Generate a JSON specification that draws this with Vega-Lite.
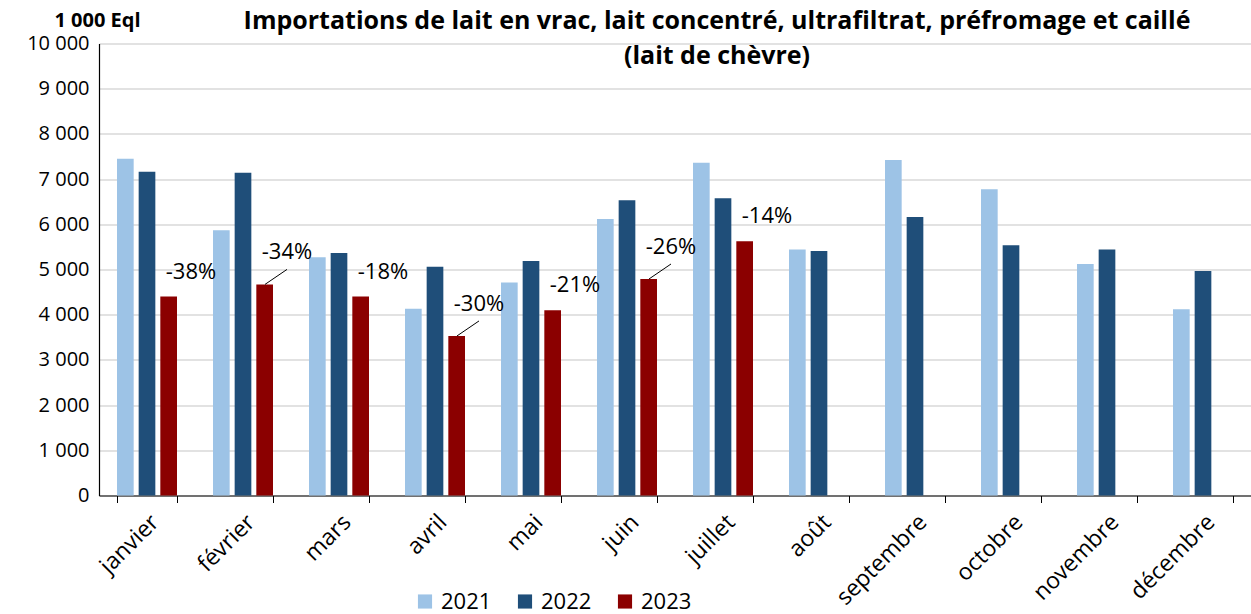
{
  "$schema": "https://vega.github.io/schema/vega-lite/v6.json",
  "width": 1152,
  "height": 452,
  "autosize": "none",
  "padding": {"left": 99, "top": 43.5, "right": 0, "bottom": 118.5},
  "config": {"font": "Open Sans", "view": {"stroke": null}},
  "title": {
    "text": ["Importations de lait en vrac, lait concentré, ultrafiltrat, préfromage et caillé", "(lait de chèvre)"],
    "fontSize": 25,
    "fontWeight": "bold",
    "color": "black",
    "anchor": "middle",
    "dx": 42,
    "offset": 0,
    "dy": 58,
    "lineHeight": 35
  },
  "data": {
    "values": [
      {"month": "janvier", "year": "2021", "value": 7450},
      {"month": "janvier", "year": "2022", "value": 7160},
      {"month": "janvier", "year": "2023", "value": 4400, "pct": "-38%"},
      {"month": "février", "year": "2021", "value": 5870},
      {"month": "février", "year": "2022", "value": 7140},
      {"month": "février", "year": "2023", "value": 4670, "pct": "-34%"},
      {"month": "mars", "year": "2021", "value": 5270},
      {"month": "mars", "year": "2022", "value": 5365},
      {"month": "mars", "year": "2023", "value": 4400, "pct": "-18%"},
      {"month": "avril", "year": "2021", "value": 4130},
      {"month": "avril", "year": "2022", "value": 5060},
      {"month": "avril", "year": "2023", "value": 3530, "pct": "-30%"},
      {"month": "mai", "year": "2021", "value": 4710},
      {"month": "mai", "year": "2022", "value": 5190},
      {"month": "mai", "year": "2023", "value": 4100, "pct": "-21%"},
      {"month": "juin", "year": "2021", "value": 6120},
      {"month": "juin", "year": "2022", "value": 6530},
      {"month": "juin", "year": "2023", "value": 4790, "pct": "-26%"},
      {"month": "juillet", "year": "2021", "value": 7360},
      {"month": "juillet", "year": "2022", "value": 6575},
      {"month": "juillet", "year": "2023", "value": 5625, "pct": "-14%"},
      {"month": "août", "year": "2021", "value": 5440},
      {"month": "août", "year": "2022", "value": 5410},
      {"month": "septembre", "year": "2021", "value": 7420},
      {"month": "septembre", "year": "2022", "value": 6160},
      {"month": "octobre", "year": "2021", "value": 6775},
      {"month": "octobre", "year": "2022", "value": 5535},
      {"month": "novembre", "year": "2021", "value": 5120},
      {"month": "novembre", "year": "2022", "value": 5445},
      {"month": "décembre", "year": "2021", "value": 4120},
      {"month": "décembre", "year": "2022", "value": 4965}
    ]
  },
  "encoding": {
    "x": {
      "field": "month",
      "type": "nominal",
      "sort": ["janvier", "février", "mars", "avril", "mai", "juin", "juillet", "août", "septembre", "octobre", "novembre", "décembre"],
      "scale": {"paddingInner": 0.375, "paddingOuter": 0.1875},
      "axis": {
        "title": null,
        "labelAngle": -45,
        "labelFontSize": 23,
        "labelColor": "black",
        "labelPadding": 8,
        "ticks": true,
        "tickBand": "extent",
        "tickSize": 7,
        "tickColor": "black",
        "domainColor": "black",
        "domainWidth": 1.2,
        "grid": false
      }
    }
  },
  "layer": [
    {
      "mark": {"type": "bar"},
      "encoding": {
        "xOffset": {"field": "year", "type": "nominal", "scale": {"paddingInner": 0.23, "paddingOuter": 0}},
        "y": {
          "field": "value",
          "type": "quantitative",
          "scale": {"domain": [0, 10000], "nice": false},
          "axis": {
            "title": "1 000 Eql",
            "titleAngle": 0,
            "titleAlign": "center",
            "titleBaseline": "alphabetic",
            "titleX": -2,
            "titleY": -17,
            "titleFontSize": 20,
            "titleFontWeight": "bold",
            "titleColor": "black",
            "values": [0, 1000, 2000, 3000, 4000, 5000, 6000, 7000, 8000, 9000, 10000],
            "labelExpr": "replace(format(datum.value, ','), ',', ' ')",
            "labelFontSize": 20,
            "labelColor": "black",
            "labelPadding": 10,
            "ticks": false,
            "domainColor": "black",
            "domainWidth": 1.2,
            "gridColor": "#d9d9d9",
            "gridWidth": 1.5
          }
        },
        "color": {
          "field": "year",
          "type": "nominal",
          "scale": {"domain": ["2021", "2022", "2023"], "range": ["#9DC3E6", "#1F4E79", "#8B0000"]},
          "legend": {
            "orient": "none",
            "legendX": 315,
            "legendY": 547,
            "direction": "horizontal",
            "title": null,
            "symbolType": "square",
            "symbolSize": 200,
            "symbolStrokeWidth": 0,
            "symbolOpacity": 1,
            "labelFontSize": 22,
            "labelColor": "black",
            "labelOffset": 5,
            "columnPadding": 22
          }
        }
      }
    },
    {
      "transform": [{"filter": "datum.year == '2023' && indexof(['février', 'avril', 'juin'], datum.month) < 0"}],
      "mark": {"type": "text", "dx": 44, "dy": -25, "fontSize": 22, "color": "black", "align": "center", "baseline": "middle"},
      "encoding": {
        "y": {"field": "value", "type": "quantitative"},
        "text": {"field": "pct"}
      }
    },
    {
      "transform": [{"filter": "datum.year == '2023' && indexof(['février', 'avril', 'juin'], datum.month) >= 0"}],
      "mark": {"type": "text", "dx": 44, "dy": -32, "fontSize": 22, "color": "black", "align": "center", "baseline": "middle"},
      "encoding": {
        "y": {"field": "value", "type": "quantitative"},
        "text": {"field": "pct"}
      }
    },
    {
      "transform": [{"filter": "datum.year == '2023' && indexof(['février', 'avril', 'juin'], datum.month) >= 0"}],
      "mark": {"type": "rule", "xOffset": 22, "x2Offset": 44, "y2Offset": -15, "color": "black", "strokeWidth": 1},
      "encoding": {
        "x2": {"field": "month"},
        "y": {"field": "value", "type": "quantitative"},
        "y2": {"field": "value"}
      }
    }
  ]
}
